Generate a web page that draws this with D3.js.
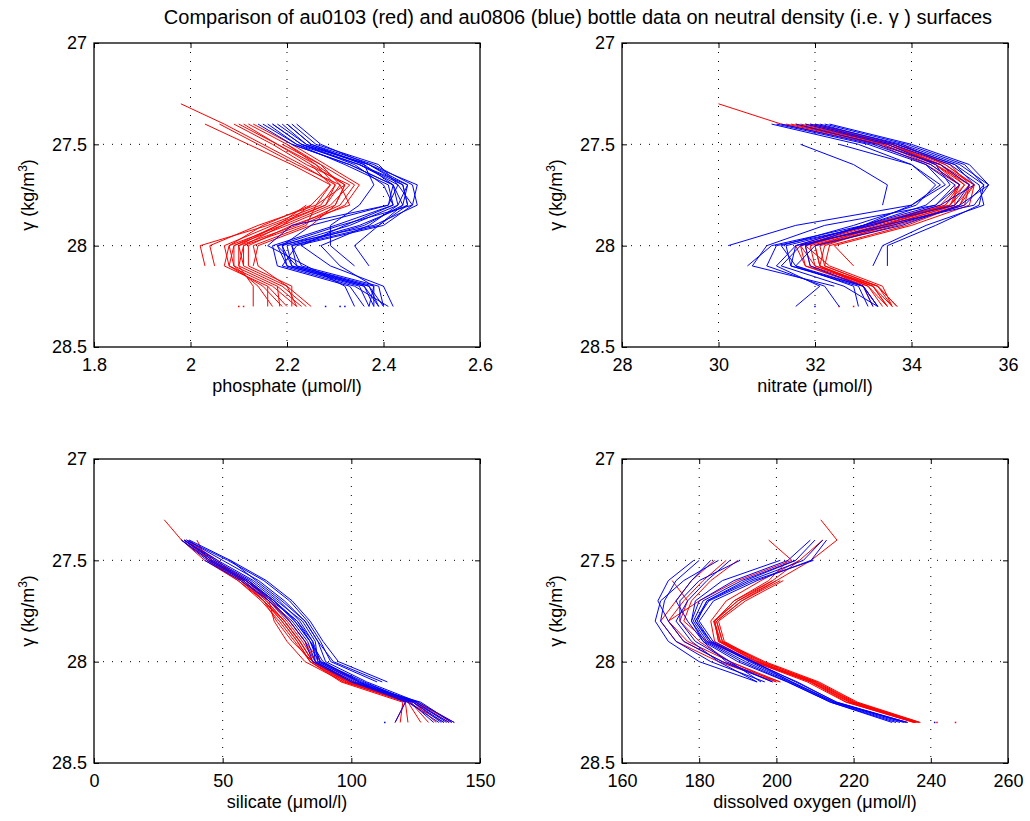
<!DOCTYPE html>
<html><head><meta charset="utf-8">
<script src="https://cdn.jsdelivr.net/npm/d3@7"></script>
<style>body{margin:0;background:#fff}svg{display:block}text{font-family:"Liberation Sans",Arial,sans-serif;fill:#000}</style>
</head><body><svg id="c" width="1030" height="821"></svg>
<script>
const _ = null;
const gammaLevels = [27.3,27.4,27.5,27.6,27.7,27.8,27.9,28.0,28.1,28.2,28.3];
const yTicks = [27, 27.5, 28, 28.5];
const yTickLabels = ["27","27.5","28","28.5"];
const titleText = "Comparison of au0103 (red) and au0806 (blue) bottle data on neutral density (i.e. γ ) surfaces";

const phosTicks = [1.8,2.0,2.2,2.4,2.6];
const phosTickLabels = ["1.8","2","2.2","2.4","2.6"];
const nitTicks = [28,30,32,34,36];
const nitTickLabels = ["28","30","32","34","36"];
const silTicks = [0,50,100,150];
const silTickLabels = ["0","50","100","150"];
const oxyTicks = [160,180,200,220,240,260];
const oxyTickLabels = ["160","180","200","220","240","260"];

// phosphate profiles (values at gammaLevels)
const phosRed = [
[1.98,2.07,2.15,2.23,2.30,2.27,2.16,2.02,2.03,_,_],
[_,2.03,2.12,2.21,2.29,2.26,2.14,2.04,2.05,_,_],
[_,2.06,2.14,2.22,2.31,2.28,2.17,2.07,2.08,2.17,2.22],
[_,2.09,2.17,2.24,2.33,2.29,2.19,2.08,2.07,2.16,2.20],
[_,2.11,2.18,2.26,2.32,2.30,2.20,2.09,2.09,2.18,2.23],
[_,2.12,2.20,2.27,2.34,2.31,2.22,2.10,2.10,2.19,2.24],
[_,2.13,2.21,2.28,2.35,2.32,2.23,2.11,2.11,2.20,2.22],
[_,_,2.19,2.27,2.31,2.33,2.21,2.12,2.12,2.21,2.21],
[_,_,2.20,2.26,2.30,2.28,2.18,2.09,2.08,2.15,2.19],
[_,_,_,2.25,2.29,2.25,2.15,2.08,2.09,2.14,2.17],
[_,_,_,_,2.32,2.26,2.24,2.13,2.14,2.20,2.25],
[_,2.10,2.18,2.25,2.32,2.30,2.25,2.14,2.13,_,_],
[_,_,_,_,_,2.25,2.19,2.11,2.10,2.13,2.13],
[_,_,_,_,_,2.24,2.18,2.10,2.11,_,_],
[_,_,_,_,_,_,_,_,_,2.16,2.16],
[_,_,_,_,_,_,_,_,_,2.18,2.185],
[_,_,_,_,_,_,_,_,_,_,2.10],
[_,_,_,_,_,_,_,_,_,_,2.11]
];
const phosBlue = [
[_,2.14,2.21,2.33,2.42,2.43,2.33,2.19,2.20,2.36,2.39],
[_,2.16,2.22,2.35,2.44,2.45,2.35,2.20,2.21,2.37,2.40],
[_,2.18,2.24,2.37,2.45,2.44,2.36,2.21,2.22,2.38,2.38],
[_,2.20,2.25,2.38,2.46,2.47,2.38,2.18,2.20,2.35,2.37],
[_,2.21,2.26,2.39,2.43,2.46,2.40,2.22,2.19,2.34,2.41],
[_,2.17,2.23,2.34,2.40,2.42,2.30,2.17,2.18,2.33,2.36],
[_,2.19,2.24,2.36,2.38,2.35,2.29,2.29,2.34,_,_],
[_,2.15,2.22,2.32,2.41,2.42,2.32,2.23,2.29,2.40,2.42],
[_,_,2.21,2.33,2.42,2.44,2.39,2.34,2.37,_,_],
[_,_,_,2.35,2.43,2.41,2.25,2.19,2.21,2.36,2.38],
[_,2.22,2.27,2.37,2.44,2.45,2.39,2.21,2.23,2.39,2.40],
[_,2.17,2.23,2.37,2.47,2.46,2.31,2.18,2.22,2.37,2.39],
[_,2.20,2.25,2.36,2.42,2.41,2.21,2.16,2.24,2.32,2.34],
[_,_,2.23,2.35,2.45,2.43,2.37,2.27,2.31,2.38,2.37],
[_,_,_,_,_,_,_,_,_,_,2.28],
[_,_,_,_,_,_,_,_,_,_,2.31],
[_,_,_,_,_,_,_,_,_,_,2.32]
];

// nitrate profiles
const nitRed = [
[30.0,31.3,33.3,34.3,35.0,34.7,33.2,31.7,31.8,33.1,33.4],
[_,31.4,33.4,34.5,35.2,34.8,33.4,31.8,31.9,33.2,33.5],
[_,31.6,33.5,34.6,35.3,34.9,33.5,31.9,32.0,33.3,33.6],
[_,31.8,33.6,34.7,35.3,35.0,33.6,32.0,32.1,33.1,33.5],
[_,31.9,33.7,34.8,35.2,35.1,33.7,32.1,32.2,33.3,33.7],
[_,32.0,33.6,34.6,35.1,34.8,33.3,31.8,32.3,33.4,33.6],
[_,31.5,33.4,34.4,35.0,34.6,33.1,31.7,32.0,33.2,33.5],
[_,_,33.8,34.7,35.3,35.2,34.0,32.4,32.8,_,_],
[_,_,_,34.5,35.1,34.7,33.4,32.0,32.1,33.0,33.3],
[_,_,_,_,34.9,34.9,33.5,32.2,32.1,33.2,33.6],
[_,31.7,33.5,34.6,35.2,35.0,33.9,32.3,32.2,33.3,33.7],
[_,_,33.6,34.5,35.0,34.8,33.0,31.6,31.8,33.0,33.2],
[_,_,_,_,_,_,_,_,_,_,32.5],
[_,_,_,_,_,_,_,_,_,_,32.8]
];
const nitBlue = [
[_,31.1,32.9,34.0,34.6,34.0,31.6,30.2,_,_,_],
[_,31.3,33.2,34.4,35.0,34.5,32.2,31.0,30.7,32.4,_],
[_,32.0,33.8,35.0,35.6,35.3,33.4,31.7,31.3,32.6,33.3],
[_,32.2,33.9,35.1,35.5,35.1,33.6,31.6,31.5,32.9,33.1],
[_,32.3,34.0,35.2,35.6,35.0,33.8,32.0,31.6,33.0,33.2],
[_,31.8,33.5,34.5,34.8,34.3,33.0,31.8,31.9,33.0,33.3],
[_,_,31.7,32.8,33.5,33.4,_,_,_,_,_],
[_,_,32.5,34.0,34.5,34.1,32.8,31.3,31.6,32.8,32.9],
[_,31.6,33.3,34.6,35.2,34.9,33.1,31.4,31.5,33.0,33.3],
[_,31.9,33.6,34.8,35.4,35.5,34.3,33.4,33.2,_,_],
[_,_,33.7,34.9,35.5,35.4,34.5,33.5,33.5,_,_],
[_,32.1,33.7,34.9,35.3,34.6,33.2,31.2,31.0,32.2,32.5],
[_,_,_,34.3,34.7,34.0,33.0,31.6,31.2,32.1,31.6],
[_,31.2,33.1,34.3,34.9,34.5,33.0,31.1,30.6,_,_],
[_,_,_,_,_,_,_,_,_,_,32.0]
];

// silicate profiles
const silRed = [
[27.3,34,43,56,65,72,78,84,97,122,136],
[_,35,45,58,67,74,80,85,99,124,138],
[_,36,46,59,68,75,81,86,100,125,140],
[_,37,47,60,68,70,75,82,97,_,_],
[_,36,48,57,66,71,77,85,98,121,122],
[_,_,44,57,66,73,79,84,96,120,119],
[_,35,46,59,69,76,82,86,101,126,139],
[_,_,45,58,67,74,80,85,99,123,130],
[_,_,_,60,69,76,82,88,103,_,_],
[_,34,45,58,66,73,79,84,98,122,127],
[_,_,_,_,_,_,_,_,_,121,117],
[_,40,44,56,66,74,80,85,99,124,133]
];
const silBlue = [
[_,34,44,58,68,76,82,85,100,122,134],
[_,35,46,60,70,78,84,87,102,124,136],
[_,35,48,62,72,80,85,88,104,125,138],
[_,36,50,64,74,82,87,90,106,126,140],
[_,36,52,66,76,83,88,92,110,_,_],
[_,37,53,67,77,84,89,95,114,_,_],
[_,_,43,57,68,77,83,86,101,123,132],
[_,_,45,59,69,79,84,89,103,121,117],
[_,_,53,63,73,82,87,93,112,_,_],
[_,34,45,59,70,79,85,86,100,127,139],
[_,35,47,61,71,81,86,87,103,125,137],
[_,_,_,60,70,78,84,88,105,124,135],
[_,_,_,_,_,_,_,_,_,_,113]
];

// dissolved oxygen profiles
const oxyRed = [
[211.5,215.7,209,200,191,184.5,186,195.5,209,219,236],
[_,212,206,199,190,184,185.5,195,210,220,237],
[_,_,203,198,189,184,185,194.5,209.5,219.5,236.5],
[_,_,_,201.8,192,185,186.5,196,210.5,220.5,237],
[_,_,_,201,191,184.5,186,197,211,221,237.3],
[_,_,_,200,190,183.7,185.4,196.5,210,220,236],
[_,_,_,199,189,184,185,195,208.7,218.3,235.5],
[_,_,206,196,187,183,184,194,209,219,236],
[_,198,204,190,180,172,176,186,201,_,_],
[_,_,184,178,174,170,174,185,200,_,_],
[_,_,187,181,176,172,177,188,201,_,_],
[_,_,_,173,177,175,180,188,200,_,_],
[_,_,190,183,178,176,182,194,208,218,236],
[_,_,_,_,_,_,_,_,_,_,241.6],
[_,_,_,_,_,_,_,_,_,_,246.4]
];
const oxyBlue = [
[_,213,209,195,183.7,180,183.6,194,205,215.7,234],
[_,212,207,193,182,179,183,193,204,215,233],
[_,210,205,191,181,178.5,182,192,203.5,214.5,232],
[_,208.8,203,189,180,178,181.5,191,203,214,231],
[_,_,209.6,194,182.5,179,182.5,193.5,205.4,215.5,233.5],
[_,_,201,186,179,178,181,190,202.8,214,230],
[_,_,205,192,182,179.5,183,194,204,215,234],
[_,_,185,176,170,168.6,172,180,195,_,_],
[_,_,180,174,171,170,174,183,197,_,_],
[_,_,178.6,172,169.3,172,176,186,199,_,_],
[_,_,190.6,180,175,175,179,188,196,_,_],
[_,_,188,182,177,174,178,185,195,_,_],
[_,_,183,178,174,177,181,187,199,_,_],
[_,_,_,_,_,_,_,_,_,_,241]
];

const panels = [
 {red:phosRed, blue:phosBlue, dom:[1.8,2.6], ticks:phosTicks, labels:phosTickLabels, xlabel:"phosphate (μmol/l)", x0:94, x1:480, y0:43, y1:347},
 {red:nitRed, blue:nitBlue, dom:[28,36], ticks:nitTicks, labels:nitTickLabels, xlabel:"nitrate (μmol/l)", x0:622, x1:1008, y0:43, y1:347},
 {red:silRed, blue:silBlue, dom:[0,150], ticks:silTicks, labels:silTickLabels, xlabel:"silicate (μmol/l)", x0:94, x1:480, y0:459, y1:763},
 {red:oxyRed, blue:oxyBlue, dom:[160,260], ticks:oxyTicks, labels:oxyTickLabels, xlabel:"dissolved oxygen (μmol/l)", x0:622, x1:1008, y0:459, y1:763}
];

const svg = d3.select("#c");
svg.append("text").attr("x",578).attr("y",24).attr("text-anchor","middle")
  .attr("font-size",20).text(titleText);

const FS = 18;
panels.forEach(p => {
  const x = d3.scaleLinear().domain(p.dom).range([p.x0,p.x1]);
  const y = d3.scaleLinear().domain([27,28.5]).range([p.y0,p.y1]);
  const g = svg.append("g");
  // grid (dotted)
  g.selectAll(".gx").data(p.ticks.slice(1,-1)).join("line")
    .attr("x1",d=>x(d)).attr("x2",d=>x(d)).attr("y1",p.y0).attr("y2",p.y1)
    .attr("stroke","#000").attr("stroke-width",1).attr("stroke-dasharray","1,8");
  g.selectAll(".gy").data(yTicks.slice(1,-1)).join("line")
    .attr("y1",d=>y(d)).attr("y2",d=>y(d)).attr("x1",p.x0).attr("x2",p.x1)
    .attr("stroke","#000").attr("stroke-width",1).attr("stroke-dasharray","1,8");

  const line = d3.line().defined(d=>d.v!=null).x(d=>x(d.v)).y(d=>y(d.g));
  const draw = (profiles, color) => {
    profiles.forEach(prof => {
      const pts = prof.map((v,i)=>({v, g:gammaLevels[i]}));
      const nDef = pts.filter(d=>d.v!=null).length;
      if (nDef >= 2) {
        g.append("path").attr("d", line(pts)).attr("fill","none")
          .attr("stroke",color).attr("stroke-width",1);
      }
      pts.forEach((d,i)=>{
        if (d.v==null) return;
        const prev = i>0 ? pts[i-1].v : null, next = i<pts.length-1 ? pts[i+1].v : null;
        if (prev==null && next==null) {
          g.append("rect").attr("x",x(d.v)-0.75).attr("y",y(d.g)-0.75)
            .attr("width",1.5).attr("height",1.5).attr("fill",color);
        }
      });
    });
  };
  draw(p.red, "#ff0000");
  draw(p.blue, "#0000ff");

  // axes
  const ax = d3.axisBottom(x).tickValues(p.ticks).tickFormat((d,i)=>p.labels[i]).tickSize(-5).tickSizeOuter(0).tickPadding(11);
  const axG = g.append("g").attr("transform",`translate(0,${p.y1})`).call(ax);
  const axT = g.append("g").attr("transform",`translate(0,${p.y0})`).call(d3.axisTop(x).tickValues(p.ticks).tickFormat("").tickSize(-5).tickSizeOuter(0));
  const ay = d3.axisLeft(y).tickValues(yTicks).tickFormat((d,i)=>yTickLabels[i]).tickSize(-5).tickSizeOuter(0).tickPadding(7);
  const ayG = g.append("g").attr("transform",`translate(${p.x0},0)`).call(ay);
  const ayR = g.append("g").attr("transform",`translate(${p.x1},0)`).call(d3.axisRight(y).tickValues(yTicks).tickFormat("").tickSize(-5).tickSizeOuter(0));
  [axG,axT,ayG,ayR].forEach(a=>{
    a.select(".domain").remove();
    a.selectAll("text").attr("font-size",FS).attr("font-family",'"Liberation Sans",Arial,sans-serif').attr("fill","#000");
    a.selectAll("line").attr("stroke","#000");
  });
  g.append("rect").attr("x",p.x0).attr("y",p.y0).attr("width",p.x1-p.x0).attr("height",p.y1-p.y0)
    .attr("fill","none").attr("stroke","#000").attr("stroke-width",1.3);

  // labels
  g.append("text").attr("x",(p.x0+p.x1)/2).attr("y",p.y1+45).attr("text-anchor","middle")
    .attr("font-size",FS).text(p.xlabel);
  const yl = g.append("text").attr("transform",`translate(${p.x0-60},${(p.y0+p.y1)/2}) rotate(-90)`)
    .attr("text-anchor","middle").attr("font-size",FS);
  yl.append("tspan").text("γ (kg/m");
  yl.append("tspan").attr("dy",-7).attr("font-size",12).text("3");
  yl.append("tspan").attr("dy",7).text(")");
});
</script>
</body></html>
